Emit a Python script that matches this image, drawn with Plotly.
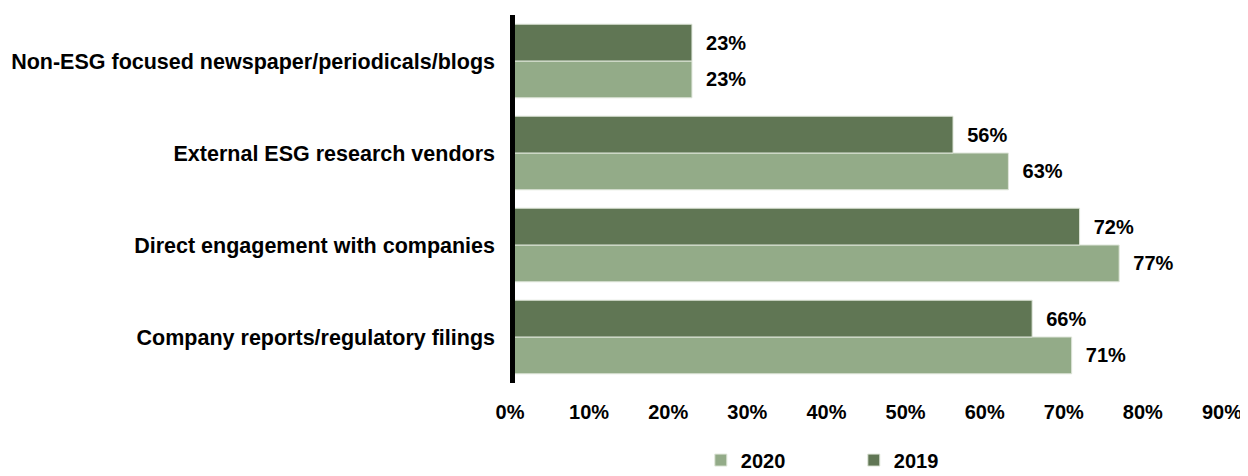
import plotly.graph_objects as go

# categories listed bottom to top
categories = [
    "Company reports/regulatory filings",
    "Direct engagement with companies",
    "External ESG research vendors",
    "Non-ESG focused newspaper/periodicals/blogs",
]
values_2020 = [71, 77, 63, 23]
values_2019 = [66, 72, 56, 23]
tick_vals = [0, 10, 20, 30, 40, 50, 60, 70, 80, 90]
tick_text = [f"{v}%" for v in tick_vals]

LIGHT = "#93AB88"
DARK = "#607654"
FONT = "Arial, Liberation Sans, sans-serif"

fig = go.Figure()

fig.add_trace(go.Bar(
    y=categories,
    x=values_2020,
    name="2020",
    orientation="h",
    marker=dict(color=LIGHT, line=dict(color="#dfe6da", width=1)),
    texttemplate="\u00a0\u00a0%{x}%",
    textposition="outside",
    textfont=dict(family=FONT, size=20, color="black", weight="bold"),
    cliponaxis=False,
))

fig.add_trace(go.Bar(
    y=categories,
    x=values_2019,
    name="2019",
    orientation="h",
    marker=dict(color=DARK, line=dict(color="#dfe6da", width=1)),
    texttemplate="\u00a0\u00a0%{x}%",
    textposition="outside",
    textfont=dict(family=FONT, size=20, color="black", weight="bold"),
    cliponaxis=False,
))

# thick black baseline at 0%
fig.add_shape(
    type="line", xref="x", yref="paper",
    x0=0, x1=0, y0=0, y1=1,
    line=dict(color="black", width=10),
    layer="above",
)

# page body adds an 8px offset, so the figure is sized 1240x468
fig.update_layout(
    barmode="group",
    bargap=0.2,
    bargroupgap=0,
    width=1240,
    height=468,
    margin=dict(l=502, r=26, t=7, b=93),
    paper_bgcolor="white",
    plot_bgcolor="white",
    font=dict(family=FONT, size=20, color="black", weight="bold"),
    xaxis=dict(
        range=[0, 90],
        tickvals=tick_vals,
        ticktext=tick_text,
        showgrid=False,
        zeroline=False,
        showline=False,
        ticks="",
        automargin=False,
        ticklabelstandoff=15,
        tickfont=dict(family=FONT, size=20, color="black", weight="bold"),
    ),
    yaxis=dict(
        showgrid=False,
        zeroline=False,
        showline=False,
        ticks="",
        automargin=False,
        ticklabelstandoff=14,
        tickfont=dict(family=FONT, size=21.5, color="black", weight="bold"),
    ),
    legend=dict(
        orientation="h",
        x=0.268,
        xanchor="left",
        yref="container",
        y=0.034,
        yanchor="middle",
        entrywidth=108,
        entrywidthmode="pixels",
        font=dict(family=FONT, size=20, color="black", weight="bold"),
    ),
    showlegend=True,
)

fig.write_html("out.html")
